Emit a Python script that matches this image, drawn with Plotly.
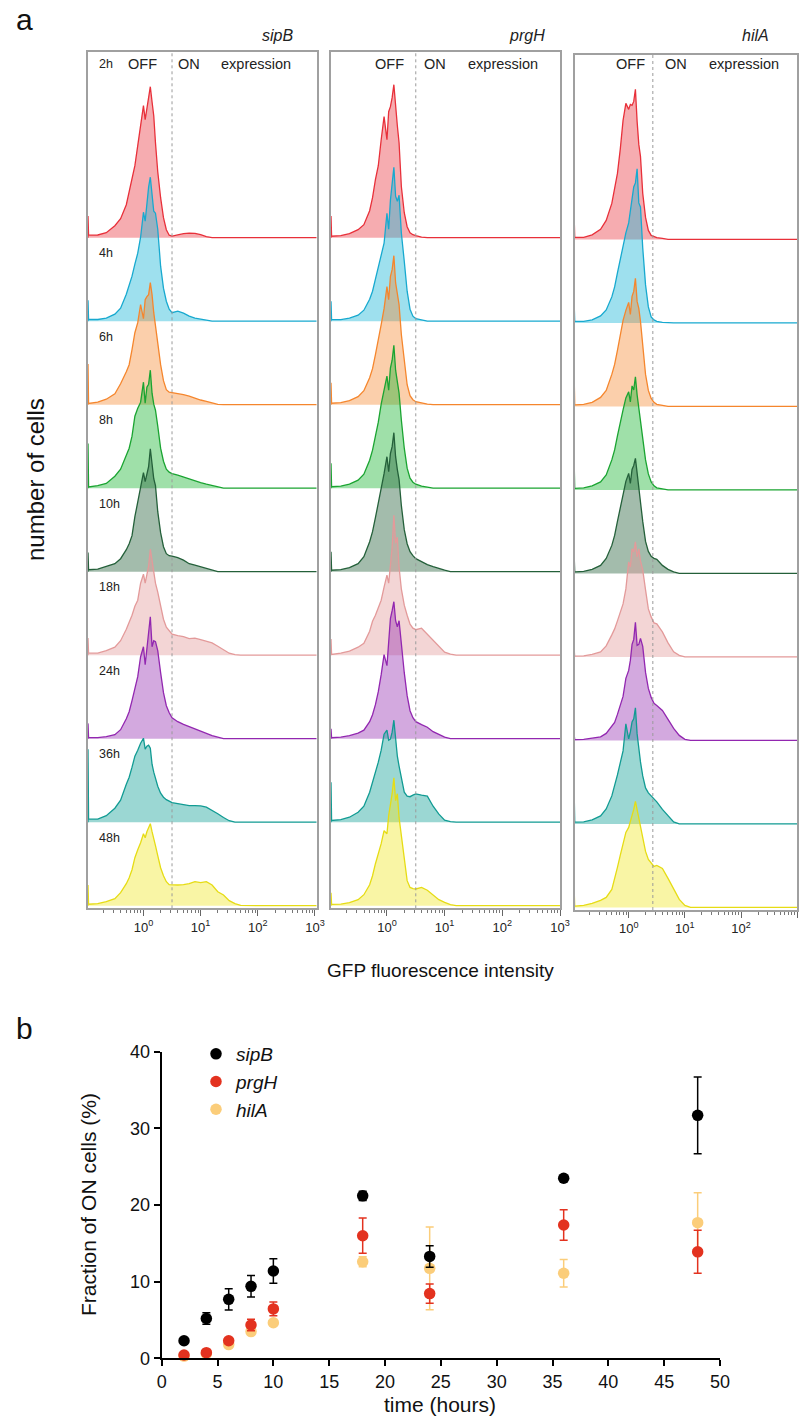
import plotly.graph_objects as go

# ---------------- data ----------------
# log10 GFP fluorescence intensity bins (shared grid for all histograms)
LOG_GFP = [-0.97, -0.96, -0.8, -0.65, -0.5, -0.4, -0.3, -0.25, -0.2, -0.15,
           -0.1, -0.05, 0.0, 0.03, 0.06, 0.09, 0.12, 0.15, 0.18, 0.21,
           0.25, 0.3, 0.35, 0.4, 0.45, 0.5, 0.6, 0.7, 0.8, 0.9,
           1.0, 1.1, 1.2, 1.3, 1.4, 1.5, 1.6, 1.7, 2.0, 3.03]

TIMEPOINTS = ["2h", "4h", "6h", "8h", "10h", "18h", "24h", "36h", "48h"]
GENES = ["sipB", "prgH", "hilA"]
GATE_GFP = [3.16, 3.16, 2.69]   # OFF / ON threshold per reporter

# number of cells per bin (arbitrary units)
SIPB_2H = [21.7, 2.5, 2.7, 5, 12, 19, 33, 45, 60, 72, 92, 110, 132, 118, 128, 138, 151, 136, 122, 95,
           66, 40, 20, 8, 2.5, 1.5, 3, 4, 4.5, 4.3, 3, 1, 0, 0, 0, 0, 0, 0, 0, 0]
SIPB_4H = [21, 1.7, 1.7, 3, 7, 13, 27, 35, 45, 57, 68, 84, 109, 100, 121, 134, 144, 125, 110, 108,
           92, 55, 33, 20, 12, 8.5, 10, 8, 5, 3, 2, 0.5, 0, 0, 0, 0, 0, 0, 0, 0]
SIPB_6H = [40.7, 1.3, 2.5, 5.5, 11, 21, 33, 40, 55, 72, 82, 100, 86, 105, 108, 110, 122, 110, 92, 78,
           58, 40, 24, 15, 12.5, 12, 11.5, 10, 8.5, 6.5, 4.7, 3.3, 2, 0.3, 0, 0, 0, 0, 0, 0]
SIPB_8H = [44.7, 1.3, 2.5, 4.7, 12, 19, 33, 40, 52, 72, 80, 86, 106, 85, 101, 104, 118, 95, 84, 78,
           62, 40, 27, 19, 16, 14.5, 13, 11, 9.5, 7.5, 5.5, 4, 2.7, 1.5, 0, 0, 0, 0, 0, 0]
SIPB_10H = [19.3, 2, 2.5, 5, 8, 13, 22, 28, 36, 55, 70, 84, 99, 90, 97, 105, 123, 104, 93, 86,
            60, 39, 25, 18, 16, 15.5, 14, 11.5, 8, 6.5, 5, 2.8, 1.5, 0, 0, 0, 0, 0, 0, 0]
SIPB_18H = [17.3, 2, 2, 4.5, 8, 14.5, 26, 33, 40, 49, 55, 72, 81, 72, 82, 89, 106, 95, 80, 72,
            63, 50, 36, 28, 24, 21, 19.5, 18.5, 16.5, 17, 15.5, 14, 12.3, 9, 5.5, 2, 0.5, 0, 0, 0]
SIPB_24H = [15.3, 1, 1, 2, 4, 9, 20, 27, 38, 50, 62, 82, 92, 74, 89, 102, 122, 92, 98, 97,
            88, 66, 46, 33, 26, 21, 17, 14.3, 12, 10, 7.5, 5, 3, 1.5, 0, 0, 0, 0, 0, 0]
SIPB_36H = [73, 3, 3, 6.5, 14, 22, 38, 45, 55, 66, 72, 79, 84, 73, 76, 77, 74, 58, 50, 44,
            36, 29, 25, 22.5, 21, 19.5, 18.5, 17.5, 16.5, 16.5, 16.3, 15, 12, 8.5, 4.7, 1.5, 0, 0, 0, 0]
SIPB_48H = [20.7, 1.5, 2, 4, 7, 13, 22, 28, 36, 48, 56, 63, 72, 68, 74, 78, 82, 74, 68, 60,
            50, 38, 30, 24, 21, 20.7, 20.7, 21, 22, 24, 23, 24, 20.7, 14, 10.7, 5, 2, 0.3, 0, 0]

PRGH_2H = [21.7, 1.5, 2, 4, 8, 13, 27, 40, 58, 72, 98, 121, 98, 126, 131, 140, 153, 130, 112, 95,
           51, 25, 11, 5, 3, 2, 0.5, 0, 0, 0, 0, 0, 0, 0, 0, 0, 0, 0, 0, 0]
PRGH_4H = [20, 1.5, 1.5, 3, 6, 11, 22, 30, 42, 55, 68, 78, 108, 92, 121, 135, 154, 125, 120, 126,
           88, 60, 30, 12, 5, 2.5, 1, 0, 0, 0, 0, 0, 0, 0, 0, 0, 0, 0, 0, 0]
PRGH_6H = [22, 1.5, 2, 4, 8, 14, 27, 36, 50, 64, 80, 96, 118, 105, 128, 135, 149, 122, 110, 100,
           70, 42, 20, 9, 5, 3, 1.5, 0.5, 0, 0, 0, 0, 0, 0, 0, 0, 0, 0, 0, 0]
PRGH_8H = [25, 1.5, 2, 4, 8, 14, 28, 38, 52, 66, 84, 100, 112, 98, 120, 128, 143, 118, 105, 95,
           68, 40, 20, 10, 6, 4, 2, 1, 0, 0, 0, 0, 0, 0, 0, 0, 0, 0, 0, 0]
PRGH_10H = [20, 1.5, 2, 4, 8, 15, 30, 40, 54, 68, 84, 98, 115, 100, 118, 125, 139, 115, 102, 92,
            66, 42, 28, 20, 16, 13, 10, 7, 5, 3, 1.5, 0, 0, 0, 0, 0, 0, 0, 0, 0]
PRGH_18H = [16.3, 0.7, 2, 4, 8, 12, 24, 34, 40, 47, 55, 68, 80, 72, 90, 108, 140, 112, 118, 88,
            66, 50, 40, 31, 27, 25.5, 27, 21, 14, 8, 3, 1, 0, 0, 0, 0, 0, 0, 0, 0]
PRGH_24H = [10, 1, 1.5, 3, 5.5, 8.5, 17, 24, 34, 47, 64, 84, 73, 100, 120, 128, 137, 118, 112, 118,
            93, 66, 43, 28, 21, 17, 14, 11.5, 7, 4, 1.5, 0, 0, 0, 0, 0, 0, 0, 0, 0]
PRGH_36H = [40, 1.7, 2.5, 5, 10, 16, 30, 40, 49, 60, 72, 88, 92, 82, 83, 90, 102, 80, 66, 56,
            44, 30, 26, 25.5, 27, 28.3, 27, 26, 16, 8, 2, 0.5, 0, 0, 0, 0, 0, 0, 0, 0]
PRGH_48H = [13, 1.3, 1.5, 3, 6, 11, 21, 30, 42, 52, 62, 75, 72, 90, 100, 112, 128, 105, 112, 88,
            70, 46, 25, 18.3, 17, 16.7, 18.3, 15.5, 11, 6, 3.3, 1, 0, 0, 0, 0, 0, 0, 0, 0]

HILA_2H = [22.7, 2, 2, 4.5, 10, 19, 36, 50, 66, 90, 119, 136, 130, 135, 134, 138, 150, 118, 95, 83,
           46, 22, 9, 4, 2.5, 1.8, 1, 0, 0, 0, 0, 0, 0, 0, 0, 0, 0, 0, 0, 0]
HILA_4H = [20, 1.5, 1.5, 3, 7, 13, 26, 36, 50, 64, 78, 90, 100, 112, 122, 136, 140, 154, 120, 116,
           75, 38, 16, 6, 3, 1.5, 0.5, 0, 0, 0, 0, 0, 0, 0, 0, 0, 0, 0, 0, 0]
HILA_6H = [30, 1.5, 2, 4, 9, 16, 32, 42, 56, 70, 86, 96, 104, 92, 110, 115, 128, 105, 98, 85,
           60, 32, 16, 8, 4, 2, 1, 0, 0, 0, 0, 0, 0, 0, 0, 0, 0, 0, 0, 0]
HILA_8H = [28, 1.5, 2, 4, 8, 15, 30, 40, 54, 68, 80, 92, 98, 88, 104, 100, 113, 95, 82, 70,
           50, 30, 16, 8, 4, 2, 1, 0, 0, 0, 0, 0, 0, 0, 0, 0, 0, 0, 0, 0]
HILA_10H = [18, 1.5, 2, 4, 8, 15, 28, 38, 52, 66, 80, 92, 100, 90, 104, 108, 115, 100, 88, 72,
            52, 32, 22, 17, 15, 14, 8, 4, 1.5, 0, 0, 0, 0, 0, 0, 0, 0, 0, 0, 0]
HILA_18H = [7.3, 0.7, 1, 2.5, 5, 11, 22, 28, 36, 45, 53, 68, 95, 90, 108, 105, 115, 100, 108, 96,
            87, 67, 48, 40, 34, 33, 25, 14, 5, 1.5, 0, 0, 0, 0, 0, 0, 0, 0, 0, 0]
HILA_24H = [6, 0.7, 1, 2, 3.5, 7, 14, 18, 26, 36, 44, 62, 70, 80, 96, 101, 118, 95, 96, 102,
            94, 68, 52, 43, 37, 35, 30, 21, 12, 5, 1, 0, 0, 0, 0, 0, 0, 0, 0, 0]
HILA_36H = [31.7, 1.7, 2, 4, 8, 15, 28, 38, 49, 61, 73, 100, 85, 92, 102, 105, 116, 90, 74, 62,
            48, 36, 31, 28, 25.5, 22, 14.5, 8, 2, 0, 0, 0, 0, 0, 0, 0, 0, 0, 0, 0]
HILA_48H = [17.3, 1.3, 2, 4, 7, 10, 18, 28, 40, 52, 65, 75, 80, 86, 90, 98, 106, 98, 90, 80,
            70, 56, 48, 44, 41, 42, 39, 29, 18, 8, 2, 0, 0, 0, 0, 0, 0, 0, 0, 0]

# fraction of ON cells (%) vs time
TIME_H = [2, 4, 6, 8, 10, 18, 24, 36, 48]
SIPB_ON = [2.3, 5.2, 7.7, 9.4, 11.4, 21.2, 13.3, 23.5, 31.7]
SIPB_ERR = [0.25, 0.75, 1.4, 1.4, 1.6, 0.6, 1.4, 0.3, 5.0]
PRGH_ON = [0.45, 0.75, 2.3, 4.35, 6.45, 16.0, 8.45, 17.4, 13.9]
PRGH_ERR = [0.1, 0.1, 0.3, 0.75, 0.9, 2.3, 1.25, 2.0, 2.8]
HILA_ON = [0.3, 0.6, 1.8, 3.5, 4.65, 12.6, 11.75, 11.1, 17.7]
HILA_ERR = [0.1, 0.1, 0.2, 0.3, 0.3, 0.65, 5.4, 1.8, 3.9]

# ---------------- styling ----------------
W, H = 799, 1420
FONT = "Liberation Sans, Arial, Helvetica, sans-serif"
LINE_COLORS = ["#e8303a", "#17a9cf", "#f5862d", "#1aa431", "#24603a",
               "#e39a9a", "#9227b0", "#119b93", "#e6dc14"]
FILL_COLORS = ["rgba(232,48,58,0.40)", "rgba(23,180,215,0.42)", "rgba(245,134,45,0.40)",
               "rgba(26,180,50,0.42)", "rgba(36,96,58,0.42)", "rgba(227,154,154,0.42)",
               "rgba(146,39,176,0.40)", "rgba(17,160,150,0.42)", "rgba(240,232,40,0.42)"]
ROW_STEP = 83.5           # vertical offset between stacked histograms (cell-count units)
TOP_BASE = 670.6          # offset of the first (2h) histogram
PANELS = [(88, 316.7, 52.3, 908.3), (331, 560, 52.3, 908.3), (575, 797.3, 55, 910)]
X_RANGES = [[-0.97, 3.03], [-0.97, 3.0], [-0.955, 3.0]]


def fx(px):
    return px / W


def fy(py):
    return 1 - py / H


def note(text, x, y, size, xanchor="center", yanchor="middle", angle=0, color="#222"):
    return dict(x=fx(x), y=fy(y), xref="paper", yref="paper", text=text, showarrow=False,
                xanchor=xanchor, yanchor=yanchor, textangle=angle,
                font=dict(size=size, color=color))


HIST = {
    "sipB": [SIPB_2H, SIPB_4H, SIPB_6H, SIPB_8H, SIPB_10H, SIPB_18H, SIPB_24H, SIPB_36H, SIPB_48H],
    "prgH": [PRGH_2H, PRGH_4H, PRGH_6H, PRGH_8H, PRGH_10H, PRGH_18H, PRGH_24H, PRGH_36H, PRGH_48H],
    "hilA": [HILA_2H, HILA_4H, HILA_6H, HILA_8H, HILA_10H, HILA_18H, HILA_24H, HILA_36H, HILA_48H],
}

gfp = [10 ** g for g in LOG_GFP]

fig = go.Figure()
layout = dict(width=W, height=H, margin=dict(l=0, r=0, t=0, b=0, autoexpand=False),
              paper_bgcolor="white", plot_bgcolor="white", showlegend=True,
              font=dict(family=FONT, color="#222"))
annotations = []
shapes = []

major = [1, 10, 100, 1000]
major_txt = ["10<sup>0</sup>", "10<sup>1</sup>", "10<sup>2</sup>", "10<sup>3</sup>"]
minor = [m * 10 ** d for d in range(-1, 3) for m in range(2, 10)]

for p, gene in enumerate(GENES):
    ax = "" if p == 0 else str(p + 1)
    x0, x1, yt, yb = PANELS[p]
    for k, tp in enumerate(TIMEPOINTS):
        base = TOP_BASE - ROW_STEP * k
        vals = HIST[gene][k]
        ys = [base + v for v in vals]
        fig.add_trace(go.Scatter(
            x=[gfp[0]] + gfp + [gfp[-1]], y=[base] + ys + [base],
            fill="toself", fillcolor=FILL_COLORS[k], line=dict(width=0),
            mode="lines", hoverinfo="skip", showlegend=False,
            xaxis="x" + ax, yaxis="y" + ax))
        fig.add_trace(go.Scatter(
            x=[gfp[0]] + gfp, y=[base] + ys, mode="lines",
            line=dict(color=LINE_COLORS[k], width=1.3),
            name=f"{gene} {tp}", showlegend=False,
            xaxis="x" + ax, yaxis="y" + ax))
        if p == 0:
            if k == 0:
                annotations.append(note(tp, 96.5, 64, 12.5, xanchor="left"))
            else:
                annotations.append(dict(x=fx(96.5), y=base + 68, xref="paper", yref="y",
                                        text=tp, showarrow=False, xanchor="left",
                                        yanchor="middle", font=dict(size=12.5, color="#222")))
    layout["xaxis" + ax] = dict(
        type="log", range=X_RANGES[p], domain=[fx(x0), fx(x1)], anchor="y" + ax,
        showline=True, linecolor="#a0a0a0", linewidth=1.5, mirror=True,
        ticks="outside", ticklen=6, tickwidth=1, tickcolor="#666",
        tickvals=major, ticktext=major_txt, tickfont=dict(size=13, color="#222"),
        minor=dict(tickvals=minor, ticks="outside", ticklen=3, tickcolor="#777", tickwidth=1),
        showgrid=False, zeroline=False)
    layout["yaxis" + ax] = dict(
        range=[0, yb - yt], domain=[fy(yb), fy(yt)], anchor="x" + ax,
        showline=True, linecolor="#a0a0a0", linewidth=1.5, mirror=True,
        showticklabels=False, ticks="", showgrid=False, zeroline=False)
    shapes.append(dict(type="line", xref="x" + ax, yref="y" + ax + " domain",
                       x0=GATE_GFP[p], x1=GATE_GFP[p], y0=0, y1=1,
                       line=dict(color="#9a9a9a", width=1, dash="dot")))
    # panel header labels
    cx_off, cx_on, cx_exp = [(142, 188.5, 256), (389.3, 435, 503), (630, 675.8, 743.7)][p]
    for txt, cx in (("OFF", cx_off), ("ON", cx_on), ("expression", cx_exp)):
        annotations.append(note(txt, cx, 64, 14.5))
    annotations.append(note(f"<i>{gene}</i>", [295, 547, 771][p], 36, 16, xanchor="right"))

# ---------------- panel b ----------------
series = [("hilA", HILA_ON, HILA_ERR, "#fbcd7a"),
          ("prgH", PRGH_ON, PRGH_ERR, "#e3321f"),
          ("sipB", SIPB_ON, SIPB_ERR, "#000000")]
for name, vals, errs, col in series:
    fig.add_trace(go.Scatter(
        x=TIME_H, y=vals, mode="markers", name=f"<i>{name}</i>",
        marker=dict(size=11.5, color=col),
        error_y=dict(type="data", array=errs, color=col, thickness=1.5, width=4),
        cliponaxis=False, xaxis="x4", yaxis="y4", legendgroup=name))

layout["xaxis4"] = dict(range=[0, 50], domain=[fx(161.7), fx(720)], anchor="y4",
                        showline=True, linecolor="black", linewidth=2,
                        ticks="outside", ticklen=6, tickwidth=2, tickcolor="black",
                        dtick=5, tick0=0, tickfont=dict(size=18, color="#111"),
                        showgrid=False, zeroline=False)
layout["yaxis4"] = dict(range=[0, 40], domain=[fy(1358.4), fy(1051.7)], anchor="x4",
                        showline=True, linecolor="black", linewidth=2,
                        ticks="outside", ticklen=6, tickwidth=2, tickcolor="black",
                        dtick=10, tick0=0, tickfont=dict(size=18, color="#111"),
                        showgrid=False, zeroline=False)
layout["legend"] = dict(x=fx(196), y=fy(1035), xanchor="left", yanchor="top",
                        traceorder="reversed", tracegroupgap=9,
                        font=dict(size=19, color="#111"), bgcolor="rgba(0,0,0,0)")

# titles and panel letters
annotations += [
    note("a", 24, 20, 30, color="#111"),
    note("b", 24, 1028, 30, color="#111"),
    note("number of cells", 35, 480, 24, angle=-90, color="#111"),
    note("GFP fluorescence intensity", 440, 970, 19, color="#111"),
    note("Fraction of ON cells (%)", 88, 1205, 21, angle=-90, color="#111"),
    note("time (hours)", 440, 1404, 21, color="#111"),
]

layout["annotations"] = annotations
layout["shapes"] = shapes
fig.update_layout(**layout)
fig.write_html("out.html", config={"displayModeBar": False},
               post_script="document.body.style.margin='0px';"
                           "document.body.style.overflow='hidden';")
